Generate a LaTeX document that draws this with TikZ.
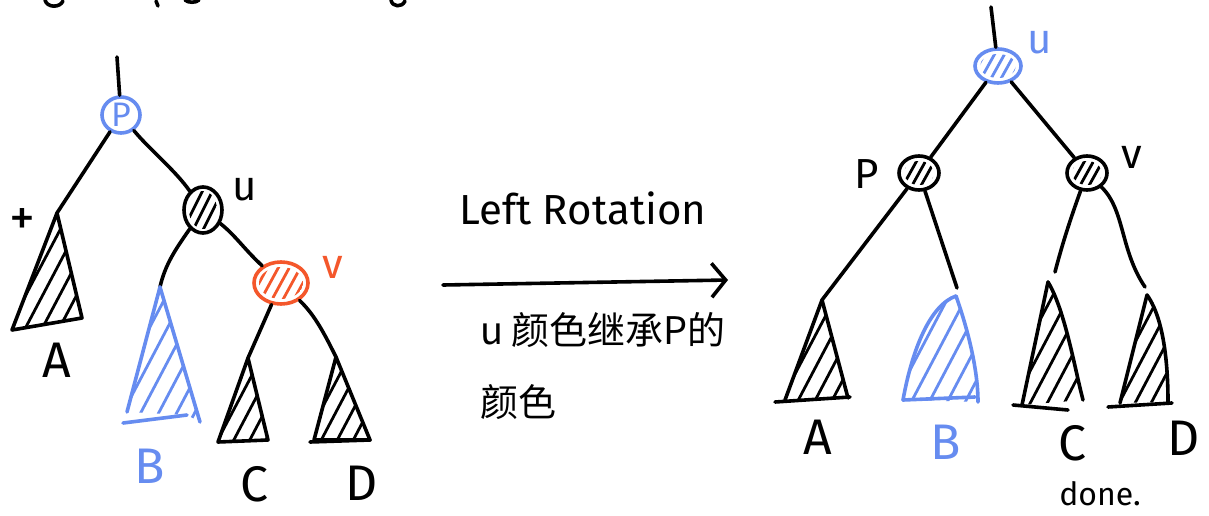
\documentclass[tikz,border=0pt]{standalone}
\usepackage{fontspec}
\setmainfont{Fira Sans}
\newfontfamily\cjk{Noto Sans CJK SC}
\usetikzlibrary{shapes.geometric,arrows.meta}
\definecolor{hblue}{HTML}{668CF0}
\definecolor{hred}{HTML}{F4572B}
\newcommand\fs[1]{\fontsize{#1}{#1}\selectfont}
\begin{document}
\begin{tikzpicture}[x=1pt,y=-1pt,
  ink/.style={line width=3.6pt,line cap=round,line join=round},
  hatchln/.style={line width=2.8pt,line cap=round},
  tnode/.style={ellipse,draw,ink,inner sep=0pt},
  lbl/.style={inner sep=0pt,font=\fs{50}},
  sml/.style={inner sep=0pt,font=\fs{42}}]
\useasboundingbox (0,0) rectangle (1209,516);
\fill[white] (0,0) rectangle (1209,516);

% cut-off writing at the top edge
\draw[ink] (45,0) .. controls (47,8) and (60,8) .. (63,1);
\draw[ink] (156,1) -- (158,6);
\draw[ink] (185,0) .. controls (188,3) and (196,3) .. (199,0);
\draw[ink] (391,0) .. controls (392,7) and (402,8) .. (405,1);

%================ LEFT TREE ================
\coordinate (ltop) at (117,57);
\node[tnode,draw=hblue,minimum width=38pt,minimum height=36pt,text=hblue,font=\fs{34}] (P) at (121,115) {P};
\node[tnode,minimum width=38pt,minimum height=46pt] (u) at (203,210) {};
\node[tnode,draw=hred,minimum width=54pt,minimum height=42pt] (v) at (281,283) {};
\begin{scope}
  \clip (u.center) ellipse (14pt and 19pt);
  \foreach \j in {-4,...,4} \draw[hatchln] (u.center) ++(\j*10-12,24) -- ++(24,-48);
\end{scope}
\begin{scope}
  \clip (v.center) ellipse (22pt and 16pt);
  \foreach \j in {-5,...,5} \draw[hatchln,hred] (v.center) ++(\j*11-12,22) -- ++(24,-44);
\end{scope}

\coordinate (Aa) at (57,213); \coordinate (Al) at (12,330); \coordinate (Ar) at (82,318);
\coordinate (Ba) at (160,287); \coordinate (Bl) at (127,412); \coordinate (Br) at (200,422);
\coordinate (Ca) at (248,358); \coordinate (Cl) at (218,442); \coordinate (Cr) at (268,440);
\coordinate (Da) at (336,357); \coordinate (Dl) at (314,440); \coordinate (Dr) at (370,440);

\draw[ink] (ltop) -- (P);
\draw[ink] (P) -- (Aa);
\draw[ink] (P) .. controls (150,150) and (175,170) .. (u);
\draw[ink] (u) .. controls (175,250) and (165,265) .. (Ba);
\draw[ink] (u) .. controls (235,235) and (245,250) .. (v);
\draw[ink] (v) -- (Ca);
\draw[ink] (v) .. controls (315,315) and (325,335) .. (Da);

% subtrees
\draw[ink] (Aa) -- (Ar) -- (Al) -- cycle;
\begin{scope}\clip (Aa) -- (Ar) -- (Al) -- cycle;
  \foreach \j in {-6,...,6} \draw[hatchln] (Aa) ++(\j*17-50,150) -- ++(100,-190);
\end{scope}
\draw[ink,hblue] (Ba) -- (Br); \draw[ink,hblue] (Ba) -- (Bl); \draw[ink,hblue] (123,423) -- (187,415);
\begin{scope}\clip (Ba) -- (Br) -- (187,415) -- (Bl) -- cycle;
  \foreach \j in {-6,...,6} \draw[hatchln,hblue] (Ba) ++(\j*18-50,150) -- ++(100,-190);
\end{scope}
\draw[ink] (Ca) -- (Cr) -- (Cl) -- cycle;
\begin{scope}\clip (Ca) -- (Cr) -- (Cl) -- cycle;
  \foreach \j in {-6,...,6} \draw[hatchln] (Ca) ++(\j*16-50,150) -- ++(100,-190);
\end{scope}
\draw[ink] (Da) -- (Dr) -- (Dl) -- cycle; \draw[ink] (310,442) -- (Dr);
\begin{scope}\clip (Da) -- (Dr) -- (Dl) -- cycle;
  \foreach \j in {-6,...,6} \draw[hatchln] (Da) ++(\j*16-50,150) -- ++(100,-190);
\end{scope}

\node[sml,font=\fs{52}] (xlbl) at (22,222) {+};
\node[sml] (ulbl) at (245,190) {u};
\node[sml,text=hred] (vlbl) at (333,267) {v};
\node[lbl] (Albl) at (57,360) {A};
\node[lbl,text=hblue] (Blbl) at (150,466) {B};
\node[lbl] (Clbl) at (254,484) {C};
\node[lbl] (Dlbl) at (362,483) {D};

%================ MIDDLE ================
\node[inner sep=0pt,font=\fs{42}] (lr) at (583,208) {Left Rotation};
\coordinate (arS) at (443,285); \coordinate (arE) at (728,280);
\draw[ink,-{Straight Barb[length=14pt,width=34pt,line width=3.6pt]}] (arS) -- (arE);
\node[inner sep=0pt,anchor=west,font=\cjk\fs{38}] (cn1) at (480,330) {u 颜色继承P的};
\node[inner sep=0pt,anchor=west,font=\cjk\fs{38}] (cn2) at (480,402) {颜色};

%================ RIGHT TREE ================
\coordinate (rtop) at (991,7);
\node[tnode,draw=hblue,minimum width=46pt,minimum height=34pt] (u2) at (998,66) {};
\node[tnode,minimum width=40pt,minimum height=34pt] (p2) at (919,173) {};
\node[tnode,minimum width=40pt,minimum height=34pt] (v2) at (1087,173) {};
\begin{scope}\clip (u2.center) ellipse (18pt and 12pt);
  \foreach \j in {-5,...,5} \draw[hatchln,hblue] (u2.center) ++(\j*10-10,18) -- ++(20,-36);
\end{scope}
\begin{scope}\clip (p2.center) ellipse (15pt and 12pt);
  \foreach \j in {-5,...,5} \draw[hatchln] (p2.center) ++(\j*9-10,18) -- ++(20,-36);
\end{scope}
\begin{scope}\clip (v2.center) ellipse (15pt and 12pt);
  \foreach \j in {-5,...,5} \draw[hatchln] (v2.center) ++(\j*9-10,18) -- ++(20,-36);
\end{scope}

\coordinate (Aa2) at (822,300); \coordinate (Al2) at (785,400); \coordinate (Ar2) at (848,398);
\coordinate (Ba2) at (956,296); \coordinate (Bl2) at (903,400); \coordinate (Br2) at (978,402);
\coordinate (Ct2) at (1055,272);
\coordinate (Ca2) at (1048,282); \coordinate (Cl2) at (1022,405); \coordinate (Cr2) at (1083,400);
\coordinate (Dt2) at (1145,287);
\coordinate (Da2) at (1147,295); \coordinate (Dl2) at (1120,403); \coordinate (Dr2) at (1168,402);

\draw[ink] (rtop) -- (u2);
\draw[ink] (u2) -- (p2);
\draw[ink] (u2) -- (v2);
\draw[ink] (p2) -- (Aa2);
\draw[ink] (p2) -- (957,288);
\draw[ink] (v2) .. controls (1070,220) and (1062,245) .. (Ct2);
\draw[ink] (v2) .. controls (1125,210) and (1120,250) .. (Dt2);

\draw[ink] (Aa2) -- (Ar2); \draw[ink] (Aa2) -- (Al2); \draw[ink] (775,402) -- (850,397);
\begin{scope}\clip (Aa2) -- (Ar2) -- (Al2) -- cycle;
  \foreach \j in {-6,...,6} \draw[hatchln] (Aa2) ++(\j*17-50,150) -- ++(100,-190);
\end{scope}
\draw[ink,hblue] (Ba2) .. controls (968,330) and (978,370) .. (Br2);
\draw[ink,hblue] (Ba2) .. controls (930,305) and (912,350) .. (Bl2);
\draw[ink,hblue] (903,400) -- (975,397);
\begin{scope}\clip (Ba2) .. controls (968,330) and (978,370) .. (Br2) -- (Bl2) .. controls (912,350) and (930,305) .. (Ba2);
  \foreach \j in {-6,...,6} \draw[hatchln,hblue] (Ba2) ++(\j*18-50,150) -- ++(100,-190);
\end{scope}
\draw[ink] (Ca2) .. controls (1065,310) and (1075,370) .. (Cr2);
\draw[ink] (Ca2) -- (Cl2); \draw[ink] (1013,405) -- (1068,410);
\begin{scope}\clip (Ca2) .. controls (1065,310) and (1075,370) .. (Cr2) -- (Cl2) -- cycle;
  \foreach \j in {-6,...,6} \draw[hatchln] (Ca2) ++(\j*17-50,150) -- ++(100,-190);
\end{scope}
\draw[ink] (Da2) .. controls (1165,320) and (1168,370) .. (Dr2);
\draw[ink] (Da2) -- (Dl2); \draw[ink] (1108,407) -- (1172,403);
\begin{scope}\clip (Da2) .. controls (1165,320) and (1168,370) .. (Dr2) -- (Dl2) -- cycle;
  \foreach \j in {-6,...,6} \draw[hatchln] (Da2) ++(\j*16-50,150) -- ++(100,-190);
\end{scope}

\node[sml,text=hblue] (u2lbl) at (1040,43) {u};
\node[sml] (p2lbl) at (867,174) {P};
\node[sml] (v2lbl) at (1132,157) {v};
\node[lbl] (A2lbl) at (818,437) {A};
\node[lbl,text=hblue] (B2lbl) at (946,442) {B};
\node[lbl] (C2lbl) at (1072,443) {C};
\node[lbl] (D2lbl) at (1184,438) {D};
\node[inner sep=0pt,font=\fs{32}] (done) at (1100,494) {done.};
\end{tikzpicture}
\end{document}
